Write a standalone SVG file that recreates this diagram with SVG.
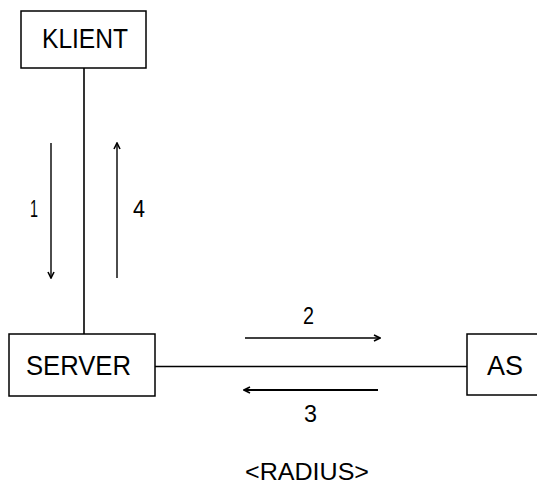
<svg xmlns="http://www.w3.org/2000/svg" width="537" height="484" viewBox="0 0 537 484">
<defs>
<style>
.box{fill:#fff;stroke:#000;stroke-width:1.5}
.ln{stroke:#000;stroke-width:1.6;fill:none}
.ar{stroke:#000;stroke-width:1.4;fill:none;marker-end:url(#ah)}
.t{font-family:"Liberation Sans",Arial,sans-serif;font-size:27px;fill:#000}
.s{font-family:"Liberation Sans",Arial,sans-serif;font-size:24px;fill:#000}
</style>
<marker id="ah" viewBox="0 0 8 8" refX="7" refY="4" markerWidth="8" markerHeight="8" markerUnits="userSpaceOnUse" orient="auto">
<path d="M1,1 L7,4 L1,7" fill="none" stroke="#000" stroke-width="1.6"/>
</marker>
</defs>
<rect width="537" height="484" fill="#fff"/>
<g id="connectors">
<line class="ln" x1="84" y1="68" x2="84" y2="334"/>
<line class="ln" x1="155" y1="366.5" x2="467" y2="366.5"/>
<line class="ar" x1="51" y1="143" x2="51" y2="278"/>
<line class="ar" x1="117" y1="278" x2="117" y2="143"/>
<line class="ar" x1="245" y1="338" x2="380" y2="338"/>
<line class="ar" x1="378" y1="390" x2="244" y2="390" style="stroke-width:2.2"/>
<text class="s" x="30" y="217" textLength="8" lengthAdjust="spacingAndGlyphs">1</text>
<text class="s" x="133" y="217" textLength="12" lengthAdjust="spacingAndGlyphs">4</text>
<text class="s" x="303" y="324" textLength="11" lengthAdjust="spacingAndGlyphs">2</text>
<text class="s" x="304" y="422" textLength="13" lengthAdjust="spacingAndGlyphs">3</text>
</g>
<g id="klient">
<rect class="box" x="21" y="11" width="125" height="57"/>
<text class="t" x="42" y="48" textLength="86" lengthAdjust="spacingAndGlyphs">KLIENT</text>
</g>
<g id="server">
<rect class="box" x="9" y="334" width="146" height="62"/>
<text class="t" x="26" y="375" textLength="105" lengthAdjust="spacingAndGlyphs">SERVER</text>
</g>
<g id="as">
<rect class="box" x="467" y="334" width="80" height="61"/>
<text class="t" x="487" y="375" textLength="36" lengthAdjust="spacingAndGlyphs">AS</text>
</g>
<g id="label">
<text class="s" x="245" y="480" textLength="124" lengthAdjust="spacingAndGlyphs">&lt;RADIUS&gt;</text>
</g>
</svg>
